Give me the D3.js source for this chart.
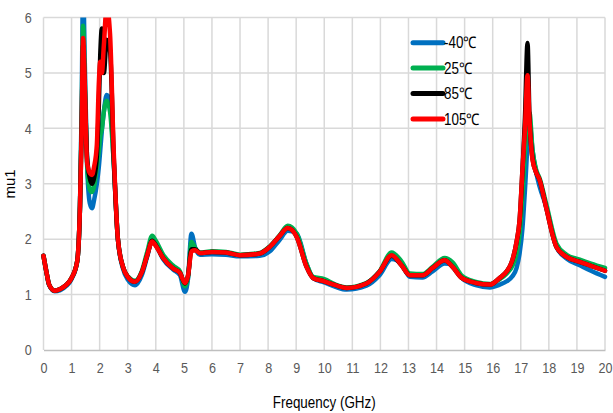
<!DOCTYPE html>
<html>
<head>
<meta charset="utf-8">
<script src="https://cdn.jsdelivr.net/npm/d3@7"></script>
<style>
  body { margin: 0; background: #fff; }
  svg text { font-family: "Liberation Sans", Arial, sans-serif; }
  .narrow { transform-box: fill-box; transform-origin: center; transform: scaleX(0.84); }
  .narrow-left { transform-box: fill-box; transform-origin: left center; transform: scaleX(0.84); }
</style>
</head>
<body>
<svg id="chart" width="613" height="413"></svg>
<script>
// Static data
const freq = [0, 0.1, 0.2, 0.4, 0.6, 0.8, 1.0, 1.2, 1.3, 1.36,
  1.41, 1.47, 1.55, 1.65, 1.73, 1.8, 1.9, 1.97, 2.02, 2.08,
  2.15, 2.25, 2.37, 2.5, 2.65, 2.83, 3.0, 3.26, 3.5, 3.7,
  3.87, 4.0, 4.26, 4.62, 4.86, 5.04, 5.15, 5.27, 5.4, 5.57,
  6.0, 6.5, 7.0, 7.7, 8.06, 8.4, 8.7, 9.02, 9.37, 9.6,
  10.0, 10.4, 10.8, 11.5, 11.97, 12.4, 12.75, 13.05, 13.5, 13.86,
  14.29, 14.57, 14.9, 15.4, 15.9, 16.25, 16.5, 16.7, 16.85, 16.96,
  17.06, 17.15, 17.24, 17.31, 17.42, 17.55, 17.67, 17.9, 18.27, 18.63,
  19.1, 19.5, 20];

const mMinus40 = [1.70, 1.42, 1.17, 1.06, 1.08, 1.15, 1.28, 1.6, 2.6, 4.4,
  6.6, 5.2, 3.4, 2.65, 2.56, 2.7, 3.0, 3.3, 3.6, 3.97,
  4.3, 4.6, 4.5, 3.4, 2.0, 1.47, 1.27, 1.17, 1.35, 1.7,
  1.98, 1.9, 1.64, 1.45, 1.35, 1.05, 1.3, 2.1, 1.85, 1.72,
  1.73, 1.72, 1.69, 1.7, 1.78, 1.98, 2.15, 2.1, 1.55, 1.3,
  1.22, 1.14, 1.09, 1.16, 1.35, 1.64, 1.55, 1.32, 1.31, 1.42,
  1.56, 1.54, 1.3, 1.17, 1.13, 1.18, 1.24, 1.33, 1.48, 1.75,
  2.2, 2.9, 3.7, 4.1, 3.6, 3.2, 2.95, 2.6, 1.86, 1.65,
  1.53, 1.43, 1.32];

const m25 = [1.70, 1.42, 1.18, 1.07, 1.10, 1.17, 1.30, 1.6, 2.6, 4.2,
  5.85, 4.9, 3.4, 2.9, 2.85, 2.95, 3.3, 3.6, 3.85, 4.0,
  4.3, 4.5, 4.3, 3.4, 2.0, 1.5, 1.33, 1.25, 1.42, 1.78,
  2.06, 1.97, 1.72, 1.52, 1.42, 1.15, 1.32, 1.95, 1.84, 1.76,
  1.78, 1.77, 1.72, 1.75, 1.87, 2.06, 2.24, 2.1, 1.55, 1.32,
  1.28, 1.18, 1.13, 1.21, 1.42, 1.76, 1.6, 1.38, 1.37, 1.5,
  1.66, 1.58, 1.34, 1.23, 1.19, 1.28, 1.38, 1.52, 1.75, 2.1,
  2.8, 3.6, 4.1, 4.28, 3.6, 3.25, 3.1, 2.65, 1.92, 1.72,
  1.63, 1.56, 1.48];

const m85 = [1.70, 1.42, 1.18, 1.07, 1.10, 1.17, 1.30, 1.6, 2.6, 4.0,
  5.5, 4.7, 3.5, 3.1, 3.0, 3.1, 3.5, 4.4, 5.3, 5.8,
  5.0, 5.6, 5.4, 3.5, 2.0, 1.5, 1.32, 1.23, 1.4, 1.72,
  1.97, 1.89, 1.66, 1.47, 1.39, 1.2, 1.35, 1.82, 1.82, 1.75,
  1.77, 1.76, 1.71, 1.74, 1.86, 2.05, 2.2, 2.04, 1.5, 1.3,
  1.24, 1.17, 1.12, 1.2, 1.41, 1.7, 1.53, 1.35, 1.35, 1.48,
  1.62, 1.5, 1.3, 1.21, 1.18, 1.3, 1.42, 1.62, 1.95, 2.35,
  3.25, 4.2, 5.54, 4.2, 3.45, 3.2, 3.07, 2.58, 1.86, 1.68,
  1.59, 1.52, 1.43];

const m105 = [1.70, 1.42, 1.18, 1.07, 1.10, 1.17, 1.30, 1.6, 2.6, 4.0,
  5.63, 4.8, 3.4, 3.19, 3.16, 3.3, 3.7, 4.8, 5.2, 5.0,
  5.5, 6.2, 5.7, 3.6, 2.0, 1.5, 1.32, 1.23, 1.4, 1.72,
  1.96, 1.88, 1.66, 1.47, 1.39, 1.21, 1.35, 1.78, 1.8, 1.75,
  1.77, 1.76, 1.71, 1.74, 1.86, 2.05, 2.2, 2.04, 1.5, 1.3,
  1.24, 1.17, 1.12, 1.2, 1.41, 1.71, 1.53, 1.35, 1.35, 1.48,
  1.62, 1.5, 1.3, 1.21, 1.18, 1.3, 1.42, 1.62, 1.95, 2.35,
  3.25, 4.0, 4.96, 4.15, 3.43, 3.2, 3.07, 2.58, 1.86, 1.68,
  1.59, 1.52, 1.43];

const seriesNames = ['-40\u2103', '25\u2103', '85\u2103', '105\u2103'];
const seriesValues = [mMinus40, m25, m85, m105];
const seriesColors = ['#0070C0', '#00B050', '#000000', '#FF0000'];

const xTicks = d3.range(0, 21, 1);
const yTicks = [0, 1, 2, 3, 4, 5, 6];

// Layout
const margin = { top: 17.5, right: 8, bottom: 63, left: 43.5 };
const width = 613, height = 413;
const w = width - margin.left - margin.right;
const h = height - margin.top - margin.bottom;

const svg = d3.select('#chart');

const x = d3.scaleLinear().domain([0, 20]).range([0, w]);
const y = d3.scaleLinear().domain([0, 6]).range([h, 0]);

const g = svg.append('g')
  .attr('transform', `translate(${margin.left}, ${margin.top})`);

// grid
g.append('g')
  .selectAll('line')
  .data(yTicks.filter(d => d > 0))
  .enter().append('line')
  .attr('x1', 0).attr('x2', w)
  .attr('y1', d => y(d)).attr('y2', d => y(d))
  .attr('stroke', '#d9d9d9').attr('stroke-width', 1.5);

g.append('g')
  .selectAll('line')
  .data(xTicks)
  .enter().append('line')
  .attr('x1', d => x(d)).attr('x2', d => x(d))
  .attr('y1', 0).attr('y2', h)
  .attr('stroke', '#d9d9d9').attr('stroke-width', 1.5);

// axes
const xAxis = d3.axisBottom(x).tickValues(xTicks).tickSize(0).tickPadding(12).tickFormat(d3.format('d'));
const yAxis = d3.axisLeft(y).tickValues(yTicks).tickSize(0).tickPadding(11).tickFormat(d3.format('d'));

const gx = g.append('g')
  .attr('transform', `translate(0, ${h})`)
  .call(xAxis);
gx.select('.domain').attr('stroke', '#bfbfbf').attr('stroke-width', 1.5);
gx.selectAll('text').attr('fill', '#595959').attr('class', 'narrow').style('font-size', '15px');

const gy = g.append('g').call(yAxis);
gy.select('.domain').remove();
gy.selectAll('text').attr('fill', '#595959').attr('class', 'narrow').style('font-size', '15px');

// clip lines to plot
svg.append('clipPath').attr('id', 'plot-clip')
  .append('rect').attr('x', -5).attr('y', 0).attr('width', w + 10).attr('height', h);

const line = d3.line()
  .x((d, i) => x(freq[i]))
  .y(d => y(d))
  .curve(d3.curveMonotoneX);

g.append('g')
  .attr('clip-path', 'url(#plot-clip)')
  .selectAll('path')
  .data(seriesValues)
  .enter().append('path')
  .attr('d', d => line(d))
  .attr('fill', 'none')
  .attr('stroke', (d, i) => seriesColors[i])
  .attr('stroke-width', 4.5)
  .attr('stroke-linejoin', 'round')
  .attr('stroke-linecap', 'round');

// legend
const legend = svg.append('g')
  .selectAll('g')
  .data(seriesNames)
  .enter().append('g')
  .attr('transform', (d, i) => `translate(413, ${42.7 + i * 25.4})`);

legend.append('line')
  .attr('x1', 0).attr('x2', 30)
  .attr('stroke', (d, i) => seriesColors[i])
  .attr('stroke-width', 5)
  .attr('stroke-linecap', 'round');

legend.append('text')
  .attr('class', 'narrow-left')
  .attr('x', 31)
  .attr('dy', '0.35em')
  .style('font-size', '16px')
  .attr('fill', '#000')
  .text(d => d);

// titles
svg.append('text')
  .attr('class', 'narrow')
  .attr('x', margin.left + w / 2)
  .attr('y', 402)
  .attr('dy', '0.35em')
  .attr('text-anchor', 'middle')
  .attr('fill', '#000')
  .style('font-size', '16px')
  .text('Frequency (GHz)');

svg.append('text')
  .attr('transform', 'translate(10, 184) rotate(-90)')
  .attr('dy', '0.35em')
  .attr('text-anchor', 'middle')
  .attr('fill', '#000')
  .style('font-size', '15px')
  .text('mu1');
</script>
</body>
</html>
